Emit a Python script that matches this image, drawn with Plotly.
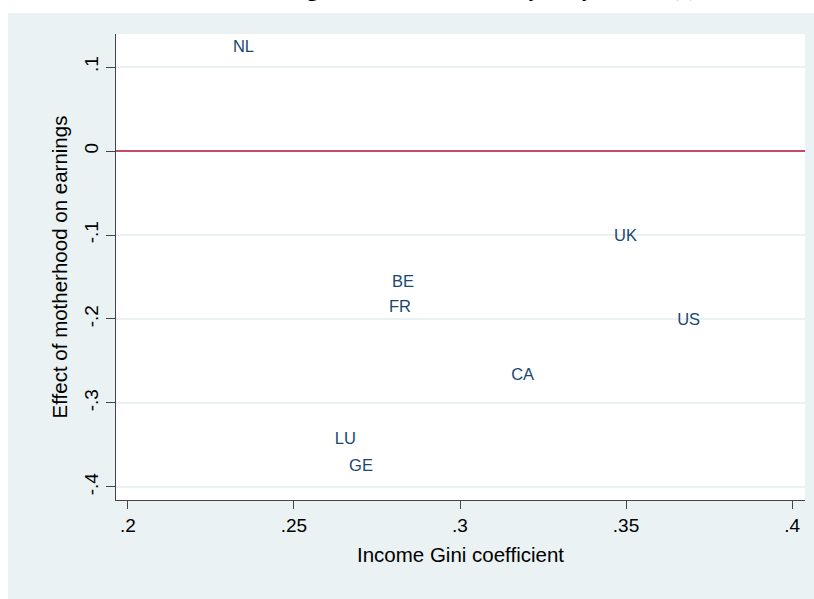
import plotly.graph_objects as go

countries = ["NL", "UK", "BE", "FR", "US", "CA", "LU", "GE"]
gini = [0.2316, 0.3464, 0.2795, 0.2786, 0.3654, 0.3154, 0.2623, 0.2666]
effect = [0.1226, -0.1024, -0.157, -0.187, -0.202, -0.2675, -0.344, -0.376]

x_ticks = [0.2, 0.25, 0.3, 0.35, 0.4]
x_ticklabels = [".2", ".25", ".3", ".35", ".4"]
y_ticks = [-0.4, -0.3, -0.2, -0.1, 0, 0.1]
y_ticklabels = ["-.4", "-.3", "-.2", "-.1", "0", ".1"]

title_text = "Motherhood earnings and Gini of women by early income (?)"

W, H = 814, 599
L, R, T, B = 116, 9, 34, 99
pw, ph = W - L - R, H - T - B

bg = "#EAF2F3"
navy = "#1A476F"

fig = go.Figure()
fig.add_trace(go.Scatter(
    x=gini, y=effect, mode="text", text=countries,
    textposition="middle right",
    textfont=dict(family="Liberation Sans, Arial", size=16.5, color=navy),
    hoverinfo="skip", showlegend=False,
))

fig.update_layout(
    width=W, height=H,
    margin=dict(l=L, r=R, t=T, b=B, pad=0),
    paper_bgcolor="white", plot_bgcolor="rgba(0,0,0,0)",
    font=dict(family="Liberation Sans, Arial", color="black"),
    showlegend=False,
    shapes=[
        dict(type="rect", xref="paper", yref="paper", layer="below",
             x0=(8 - L) / pw, x1=(W - L) / pw + 0.01,
             y0=-(H - (T + ph)) / ph - 0.01, y1=1 + (T - 13) / ph,
             fillcolor=bg, line=dict(width=0)),
        dict(type="rect", xref="paper", yref="paper", layer="below",
             x0=0, x1=1, y0=0, y1=1, fillcolor="white", line=dict(width=0)),
        dict(type="line", xref="paper", yref="y", layer="above",
             x0=0, x1=1, y0=0, y1=0, line=dict(color="#B8103A", width=1.6)),
    ],
    annotations=[
        dict(text="<b>" + title_text + "</b>", xref="paper", yref="paper",
             x=(410 - L) / pw, y=1 + (T + 11) / ph, xanchor="center", yanchor="middle",
             showarrow=False,
             font=dict(family="Liberation Serif, Times New Roman", size=22, color="black")),
    ],
)

fig.update_xaxes(
    range=[0.1964, 0.4039], tickvals=x_ticks, ticktext=x_ticklabels,
    showgrid=False, zeroline=False, showline=True, linecolor="#444444", linewidth=1,
    ticks="outside", ticklen=8, tickcolor="#444444", tickwidth=1,
    tickfont=dict(size=19),
    title=dict(text="Income Gini coefficient", font=dict(size=20.5), standoff=12),
)
fig.update_yaxes(
    range=[-0.4155, 0.1393], tickvals=y_ticks, ticktext=y_ticklabels,
    showgrid=True, gridcolor=bg, gridwidth=1.5, zeroline=False,
    showline=True, linecolor="#444444", linewidth=1,
    ticks="outside", ticklen=9, tickcolor="#444444", tickwidth=1,
    tickangle=-90, tickfont=dict(size=19),
    title=dict(text="Effect of motherhood on earnings", font=dict(size=20.5), standoff=8),
)

fig.write_html("out.html", config={"displayModeBar": False},
               post_script="document.body.style.margin='0';document.body.style.overflow='hidden';")
